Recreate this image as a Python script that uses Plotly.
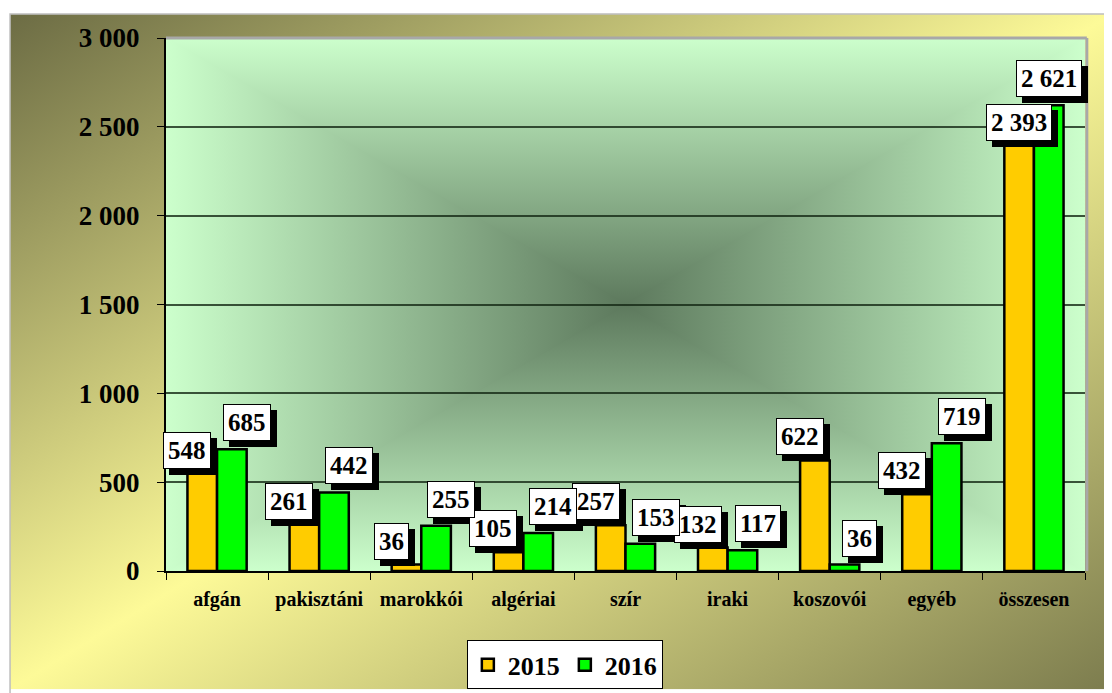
import base64
import plotly.graph_objects as go

categories = ["afgán", "pakisztáni", "marokkói", "algériai", "szír", "iraki", "koszovói", "egyéb", "összesen"]
values_2015 = [548, 261, 36, 105, 257, 132, 622, 432, 2393]
values_2016 = [685, 442, 255, 214, 153, 117, 36, 719, 2621]
y_ticks = [0, 500, 1000, 1500, 2000, 2500, 3000]

FONT = "Liberation Serif"
YELLOW = "#FFCC00"
GREEN = "#00FF00"


def svg_uri(svg):
    return "data:image/svg+xml;base64," + base64.b64encode(svg.encode("utf-8")).decode("ascii")


# outer chart area: diagonal olive -> pale yellow -> olive
outer_svg = """<svg xmlns="http://www.w3.org/2000/svg" width="1102" height="679" viewBox="0 0 100 100" preserveAspectRatio="none">
<defs><linearGradient id="g" x1="0" y1="0" x2="1" y2="1">
<stop offset="0" stop-color="#6c6c44"/><stop offset="0.5" stop-color="#fdfa98"/><stop offset="1" stop-color="#7c7c4e"/>
</linearGradient></defs>
<rect x="0" y="0" width="100" height="100" fill="url(#g)"/>
</svg>"""

# plot area: rectangular "from center" gradient (dark green centre, light green edges)
edge, centre = "#ccffcc", "#5d795d"
tri = [("t", "0,0 100,0 50,50"), ("b", "0,100 100,100 50,50"),
       ("l", "0,0 0,100 50,50"), ("r", "100,0 100,100 50,50")]
plot_svg = f"""<svg xmlns="http://www.w3.org/2000/svg" width="919" height="536" viewBox="0 0 100 100" preserveAspectRatio="none">
<defs>
<linearGradient id="t" x1="0" y1="0" x2="0" y2="1"><stop offset="0" stop-color="{edge}"/><stop offset="1" stop-color="{centre}"/></linearGradient>
<linearGradient id="b" x1="0" y1="1" x2="0" y2="0"><stop offset="0" stop-color="{edge}"/><stop offset="1" stop-color="{centre}"/></linearGradient>
<linearGradient id="l" x1="0" y1="0" x2="1" y2="0"><stop offset="0" stop-color="{edge}"/><stop offset="1" stop-color="{centre}"/></linearGradient>
<linearGradient id="r" x1="1" y1="0" x2="0" y2="0"><stop offset="0" stop-color="{edge}"/><stop offset="1" stop-color="{centre}"/></linearGradient>
</defs>
""" + "".join(f'<polygon points="{p}" fill="url(#{k})" stroke="url(#{k})" stroke-width="0.4"/>\n' for k, p in tri) + "</svg>"

fig = go.Figure()
fig.add_trace(go.Bar(x=categories, y=values_2015, name="2015",
                     marker=dict(color=YELLOW, line=dict(color="black", width=2.5))))
fig.add_trace(go.Bar(x=categories, y=values_2016, name="2016",
                     marker=dict(color=GREEN, line=dict(color="black", width=2.5))))


# data labels: white boxes with a black drop shadow
def fmt(v):
    return f"{v:,}".replace(",", " ")


label_font = dict(family=FONT, size=25, color="black", weight="bold")
annotations = []
for shadow in (True, False):
    # shifts are from the category centre (bars sit about 15px either side)
    for vals, side, dy in ((values_2015, -1, 5), (values_2016, 1, 8)):
        for c, v in zip(categories, vals):
            dx = side * (15 if v >= 1000 else 30)
            annotations.append(dict(
                x=c, y=v, xref="x", yref="y", text=fmt(v), showarrow=False,
                yanchor="bottom", xshift=dx + (6 if shadow else 0), yshift=dy - (6 if shadow else 0),
                font=label_font, bgcolor="black" if shadow else "white",
                bordercolor="black", borderwidth=1, borderpad=4))

# page body adds an 8px offset, so margins are shifted by 8px
fig.update_layout(
    width=1112, height=693,
    margin=dict(l=158, r=35, t=30, b=127),
    paper_bgcolor="white",
    plot_bgcolor="rgba(0,0,0,0)",
    separators=", ",
    barmode="group", bargap=0.42, bargroupgap=0,
    showlegend=True,
    legend=dict(orientation="h", x=0.434, xanchor="center", y=-0.13, yanchor="top",
                bgcolor="white", bordercolor="black", borderwidth=1,
                font=dict(family=FONT, size=26, color="black", weight="bold"),
                itemwidth=30, tracegroupgap=0),
    annotations=annotations,
    images=[
        dict(source=svg_uri(outer_svg), xref="paper", yref="paper", x=-0.1697, y=1.0448,
             sizex=1.1991, sizey=1.2668, xanchor="left", yanchor="top", sizing="stretch", layer="below"),
        dict(source=svg_uri(plot_svg), xref="paper", yref="paper", x=0, y=1,
             sizex=1, sizey=1, xanchor="left", yanchor="top", sizing="stretch", layer="below"),
    ],
    shapes=[
        # chart area frame
        dict(type="rect", xref="paper", yref="paper", x0=-0.1697, y0=-0.25, x1=1.05, y1=1.0448,
             line=dict(color="#bdbdbd", width=1.5), layer="below"),
        # plot area grey border top/right
        dict(type="line", xref="paper", yref="paper", x0=0, x1=1.002, y0=1, y1=1,
             line=dict(color="#a8a8a8", width=3)),
        dict(type="line", xref="paper", yref="paper", x0=1.002, x1=1.002, y0=0, y1=1,
             line=dict(color="#a8a8a8", width=3)),
    ],
)

fig.update_xaxes(
    range=[-0.5, len(categories) - 0.5],
    showline=True, linecolor="black", linewidth=2,
    ticks="outside", tickson="boundaries", ticklen=7, tickcolor="black", tickwidth=1,
    tickfont=dict(family=FONT, size=20, color="black", weight="bold"),
    ticklabelstandoff=9, showgrid=False,
)
fig.update_yaxes(
    range=[0, 3000], tickvals=y_ticks, tickformat=",",
    showline=True, linecolor="black", linewidth=2,
    ticks="outside", ticklen=7, tickcolor="black", tickwidth=1,
    tickfont=dict(family=FONT, size=27, color="black", weight="bold"),
    ticklabelstandoff=12,
    showgrid=True, gridcolor="rgba(20,40,20,0.8)", gridwidth=1.5,
    zeroline=False,
)

fig.write_html("out.html")
